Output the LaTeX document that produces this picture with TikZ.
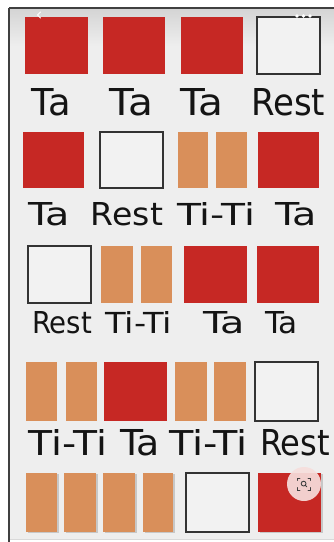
\documentclass[tikz,border=0pt]{standalone}
\usepackage{fontspec}
\setmainfont{DejaVu Sans}
\usepackage{graphicx}
\definecolor{tared}{RGB}{198,40,36}
\definecolor{tiorange}{RGB}{217,143,90}
\definecolor{bggrey}{RGB}{238,238,238}
\definecolor{topgrey}{RGB}{212,212,212}
\definecolor{restfill}{RGB}{242,242,242}
\definecolor{lenspink}{RGB}{246,222,220}
\tikzset{
  tabox/.style={fill=tared},
  tibox/.style={fill=tiorange},
  restbox/.style={fill=restfill,draw=black!80,line width=1.3pt},
  shadowbox/.style={fill=black!40,opacity=0.45},
  wordnode/.style={anchor=base west,inner sep=0pt,outer sep=0pt,text=black!92}
}
\newcommand\wrd[6]{%
  \pgfmathsetmacro\wrdw{#3-#2}%
  \pgfmathsetmacro\wrdh{#4-#5}%
  \node[wordnode] (#1) at (#2,#4) {\resizebox{\wrdw pt}{\wrdh pt}{#6}};}
\begin{document}
\begin{tikzpicture}[x=1pt,y=-1pt]
\useasboundingbox (0,0) rectangle (334,542);
\fill[white] (0,0) rectangle (334,542);
% screen background
\fill[bggrey] (9,8) rectangle (334,540);
\shade[top color=topgrey,bottom color=bggrey] (9,8) rectangle (334,46);
\draw[black!15,line width=0.6pt] (9,539.5) -- (334,539.5);
% row 1
\fill[tabox] (25,17) rectangle (88,74);
\fill[tabox] (103,17) rectangle (165,74);
\fill[tabox] (181,17) rectangle (243,74);
\filldraw[restbox] (257,17) rectangle (320,74);
\draw[black!75,line width=1.2pt] (9,8) -- (334,8);
\draw[black!75,line width=1.2pt] (9,8) -- (9,542);
% UI marks
\draw[white,line width=1pt,line cap=round] (40.5,12) -- (37.5,15) -- (40.5,18);
\fill[white] (297,16) circle (1.8) (303.5,16) circle (1.8) (310,16) circle (1.8);
\wrd{w11}{32}{71}{115}{88}{Ta}
\wrd{w12}{110}{153}{115}{88}{Ta}
\wrd{w13}{180}{223}{115}{88}{Ta}
\wrd{w14}{251}{325}{115}{88}{Rest}
% row 2
\fill[tabox] (23,132) rectangle (84,188);
\filldraw[restbox] (100,132) rectangle (163,188);
\fill[tibox] (178,132) rectangle (208,188);
\fill[tibox] (216,132) rectangle (247,188);
\fill[tabox] (258,132) rectangle (319,188);
\wrd{w21}{28}{70}{225}{202}{Ta}
\wrd{w22}{91}{163}{225}{202}{Rest}
\wrd{w23}{177}{255}{225}{202}{Ti-Ti}
\wrd{w24}{275}{317}{225}{202}{Ta}
% row 3
\filldraw[restbox] (28,246) rectangle (91,303);
\fill[tibox] (101,246) rectangle (133,303);
\fill[tibox] (141,246) rectangle (172,303);
\fill[tabox] (184,246) rectangle (247,303);
\fill[tabox] (257,246) rectangle (319,303);
\wrd{w31}{32}{92}{333}{311}{Rest}
\wrd{w32}{105}{172}{333}{311}{Ti-Ti}
\wrd{w33}{203}{245}{333}{311}{Ta}
\wrd{w34}{265}{298}{333}{311}{Ta}
% row 4
\fill[tibox] (26,362) rectangle (57,421);
\fill[tibox] (66,362) rectangle (97,421);
\fill[tabox] (104,362) rectangle (167,421);
\fill[tibox] (175,362) rectangle (207,421);
\fill[tibox] (214,362) rectangle (246,421);
\filldraw[restbox] (255,362) rectangle (318,421);
\wrd{w41}{29}{107}{455}{429}{Ti-Ti}
\wrd{w42}{120}{160}{455}{429}{Ta}
\wrd{w43}{169}{248}{455}{429}{Ti-Ti}
\wrd{w44}{260}{330}{455}{429}{Rest}
% row 5
\foreach \a/\b in {26/57,64/96,103/135,143/173}{
  \fill[shadowbox] (\a+2,474) rectangle (\b+2,533);
  \fill[tibox] (\a,473) rectangle (\b,532);
}
\filldraw[restbox] (186,473) rectangle (249,532);
\fill[shadowbox] (260,474) rectangle (323,533);
\fill[tabox] (258,473) rectangle (321,532);
% lens button
\fill[lenspink,opacity=0.92] (304,484) circle (17);
\begin{scope}[black!75,line width=0.9pt,line cap=round]
  \draw (297.5,480.5) -- (297.5,478) -- (300,478);
  \draw (308,478) -- (310.5,478) -- (310.5,480.5);
  \draw (297.5,487.5) -- (297.5,490) -- (300,490);
  \draw (308,490) -- (310.5,490) -- (310.5,487.5);
  \draw (303.6,483.6) circle (2.4);
  \draw (305.3,485.3) -- (306.8,486.8);
\end{scope}
\end{tikzpicture}
\end{document}
